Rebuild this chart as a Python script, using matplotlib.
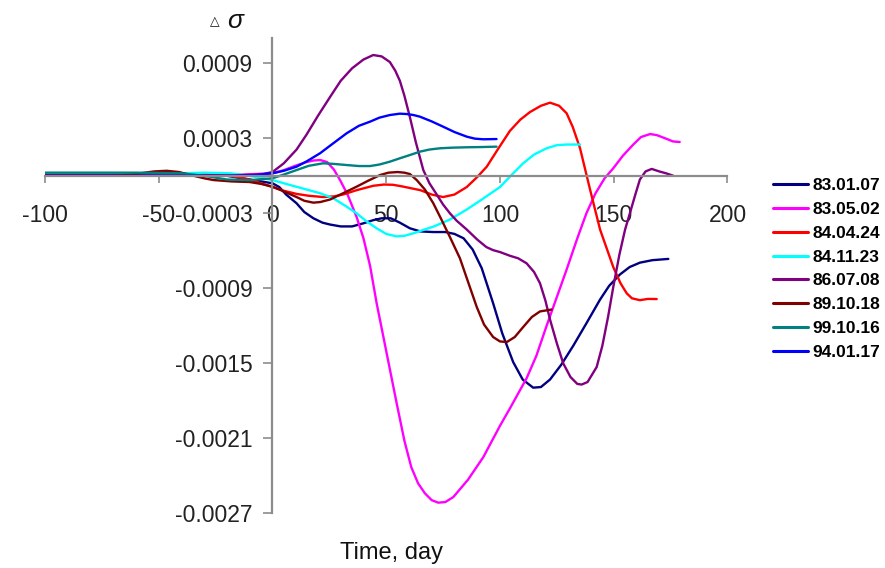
import numpy as np
import matplotlib
matplotlib.use("Agg")
import matplotlib.pyplot as plt

FS = 16.5
LW = 1.7
matplotlib.rcParams['font.family'] = ['Liberation Sans', 'DejaVu Sans']

# values, y in units of 1e-4
x_830107 = [-100, -60, -20, 0, 3, 6, 10.6, 14, 18, 22, 25.3, 30, 35, 40, 44.3, 48, 52, 56, 60.4, 65, 70.7, 76, 80, 84, 88,
            92, 97, 101, 105.8, 110, 114.6, 118, 122, 127, 132.2, 138, 144, 148, 152.7, 157, 161.5, 167, 174]
y_830107 = [0.05, 0.05, 0, -0.6, -0.9, -1.5, -2.2, -2.9, -3.4, -3.75, -3.9, -4.05, -4.05, -3.8, -3.55, -3.4, -3.4, -3.75, -4.2, -4.45, -4.5, -4.5, -4.65, -5.0, -5.9,
            -7.4, -10.2, -12.6, -14.9, -16.3, -16.95, -16.9, -16.3, -15.1, -13.6, -11.8, -9.9, -8.8, -7.9, -7.3, -6.95, -6.75, -6.65]

x_830502 = [-100, -50, -20, 0, 5, 10, 15, 18, 21, 24, 27, 29.7, 33, 37, 40, 42.9, 45.8, 50.2, 54.6, 58, 61, 64, 67, 70, 72.9, 76, 79.5, 86,
            92.7, 100, 104.4, 111.7, 116, 120.5, 125, 129.3, 134, 138, 142, 146, 149.8, 154, 158.6, 162, 166, 169, 173.3, 176, 179]
y_830502 = [0, 0, 0.05, 0.2, 0.45, 0.8, 1.1, 1.22, 1.26, 1.1, 0.5, -0.34, -1.5, -3.3, -5.0, -7.2, -10.2, -14.2, -18.2, -21.2, -23.3, -24.6, -25.4, -25.95, -26.15, -26.1, -25.7, -24.3,
            -22.5, -20.0, -18.6, -16.2, -14.4, -12.0, -9.7, -7.5, -5.0, -3.0, -1.4, -0.2, 0.6, 1.6, 2.5, 3.1, 3.34, 3.25, 2.95, 2.75, 2.7]

x_840424 = [-100, -60, -40, -30, -20, -10, 0, 5, 10.6, 16, 22.3, 27, 31, 37, 44.3, 49, 53, 57, 61, 65, 70, 75, 80, 85.4, 90, 94.2,
            99, 104.4, 109, 113.2, 118, 122, 126, 129.3, 132, 135.2, 139.6, 144, 149.8, 153, 155.7, 158, 161.5, 165, 168.9]
y_840424 = [0.1, 0.1, 0.15, 0.2, 0.05, -0.3, -0.9, -1.2, -1.45, -1.6, -1.7, -1.65, -1.5, -1.15, -0.8, -0.7, -0.72, -0.85, -1.0, -1.15, -1.5, -1.7, -1.5, -0.9, -0.1, 0.73,
            2.1, 3.6, 4.5, 5.1, 5.6, 5.85, 5.6, 5.0, 3.9, 2.2, -1.1, -4.3, -7.3, -8.6, -9.4, -9.8, -9.95, -9.85, -9.86]

x_841123 = [-100, -60, -30, -18.7, -10, 0, 7, 15, 21, 26.7, 32, 37, 41, 45.8, 50, 54.6, 58, 62, 66, 70.7, 78, 85.4, 92, 100,
            105, 110.2, 115, 120.5, 125, 129.3, 135.2]
y_841123 = [0.1, 0.1, 0.25, 0.2, 0.0, -0.34, -0.7, -1.1, -1.4, -1.8, -2.4, -3.0, -3.6, -4.2, -4.65, -4.85, -4.8, -4.6, -4.35, -4.07, -3.5, -2.7, -1.9, -0.9,
            0.05, 1.0, 1.7, 2.2, 2.45, 2.5, 2.5]

x_860708 = [-100, -60, -20, -5, 0, 5, 10.6, 15, 20, 25.3, 30, 35, 40, 44.3, 48, 51.6, 54, 56, 58, 60.4, 63, 66.3, 69, 72.2, 75, 78, 81,
            85.4, 90, 94, 97, 100, 104.4, 108, 111.7, 115, 117.6, 120, 122, 125, 127.8, 131, 134, 135.9, 138.5, 142.5, 145, 147.5,
            149.8, 152.5, 155, 157.1, 159.5, 161.5, 164, 166.7, 170, 173, 176.2]
y_860708 = [0.05, 0.05, 0.0, 0.1, 0.3, 1.0, 2.1, 3.3, 4.8, 6.3, 7.6, 8.6, 9.3, 9.66, 9.55, 9.1, 8.4, 7.6, 6.4, 4.7, 2.7, 0.46, -0.6, -1.5, -2.3, -3.0, -3.6,
            -4.3, -5.1, -5.7, -5.95, -6.1, -6.4, -6.6, -7.0, -7.7, -8.6, -10.0, -11.5, -13.4, -15.0, -16.1, -16.65, -16.7, -16.5, -15.3, -13.6, -11.3,
            -8.9, -6.3, -4.3, -3.0, -1.5, -0.3, 0.35, 0.55, 0.35, 0.2, 0.0]

x_891018 = [-100, -70, -62, -58, -52, -46.5, -41, -36, -30, -26, -18, -10, -5, 0, 5, 10.6, 14, 18, 21, 25.3, 31, 37, 42, 47.3, 51, 55,
            58, 60.4, 63.4, 67, 70.7, 74, 78, 82.4, 86, 89.8, 93, 97, 100, 103, 106.5, 110.2, 114, 117.6, 122.7]
y_891018 = [0, 0, 0.1, 0.2, 0.35, 0.4, 0.3, 0.06, -0.2, -0.34, -0.45, -0.5, -0.65, -0.87, -1.25, -1.7, -2.0, -2.15, -2.1, -1.9, -1.4, -0.87, -0.4, 0.06, 0.25, 0.3,
            0.25, 0.14, -0.34, -1.1, -2.2, -3.4, -4.9, -6.6, -8.5, -10.5, -11.9, -12.9, -13.25, -13.3, -12.9, -12.1, -11.3, -10.85, -10.7]

x_991016 = [-100, -60, -40, -30, -20, -10, 0, 5, 10.6, 16, 22.3, 27, 32.6, 38, 42.9, 47, 51.6, 56, 60.4, 64.8, 69, 73.6, 79, 85.4, 92, 98.5]
y_991016 = [0.25, 0.25, 0.2, 0.0, -0.3, -0.35, -0.2, 0.1, 0.46, 0.8, 1.0, 0.95, 0.86, 0.78, 0.78, 0.9, 1.13, 1.4, 1.66, 1.93, 2.1, 2.2, 2.25, 2.28, 2.3, 2.33]

x_940117 = [-100, -60, -18.7, -8, 0, 5, 10.6, 15, 20.9, 26, 32.6, 38, 42.9, 47, 51.6, 56, 59, 62, 64.8, 70, 75, 80, 85.4, 89, 92.7, 98.5]
y_940117 = [0, 0, 0, 0.05, 0.2, 0.4, 0.73, 1.15, 1.8, 2.5, 3.4, 4.0, 4.33, 4.65, 4.86, 4.97, 4.94, 4.86, 4.73, 4.35, 3.93, 3.5, 3.13, 2.97, 2.92, 2.94]

labels = ["83.01.07", "83.05.02", "84.04.24", "84.11.23", "86.07.08", "89.10.18", "99.10.16", "94.01.17"]
colors = ["#000080", "#ff00ff", "#ff0000", "#00ffff", "#800080", "#800000", "#008080", "#0000ff"]
xs = [x_830107, x_830502, x_840424, x_841123, x_860708, x_891018, x_991016, x_940117]
ys = [y_830107, y_830502, y_840424, y_841123, y_860708, y_891018, y_991016, y_940117]

xticks = [-100, -50, 0, 50, 100, 150, 200]
yticks = [-0.0027, -0.0021, -0.0015, -0.0009, -0.0003, 0.0003, 0.0009]

fig = plt.figure(figsize=(8.85, 5.68), dpi=100)
ax = fig.add_axes([0.0508, 0.0963, 0.7712, 0.8363])

for i in range(len(labels)):
    ax.plot(xs[i], np.array(ys[i]) * 1e-4, color=colors[i], linewidth=LW, label=labels[i],
            solid_joinstyle='round', solid_capstyle='round')

ax.set_xlim([-100, 200])
ax.set_ylim([-0.0027, 0.0011])

for s in ['top', 'right']:
    ax.spines[s].set_visible(False)
ax.spines['left'].set_position(('data', 0))
ax.spines['bottom'].set_position(('data', 0))
for s in ['left', 'bottom']:
    ax.spines[s].set_color('#8c8c8c')
    ax.spines[s].set_linewidth(1.6)

ax.set_xticks(xticks)
ax.set_xticklabels([str(v) for v in xticks])
ax.set_yticks(yticks)
ax.set_yticklabels(["%.4f" % v for v in yticks])
ax.tick_params(axis='x', direction='out', length=5, width=1.2, color='#8c8c8c', pad=15, labelsize=FS, labelcolor='#222222')
ax.tick_params(axis='y', direction='out', length=6.5, width=1.2, color='#8c8c8c', pad=8, labelsize=FS, labelcolor='#222222')

fig.text(392 / 885, 1 - 553 / 568, "Time, day", ha='center', va='center', fontsize=17, color='#111111')
fig.text(215 / 885, 1 - 22 / 568, "\u25b3", ha='center', va='center', fontsize=9, color='#111111', family='DejaVu Sans')
fig.text(235 / 885, 1 - 21 / 568, "\u03c3", ha='center', va='center', fontsize=19, style='italic', color='#111111')

leg = ax.legend(loc='upper left', bbox_to_anchor=(773 / 885, 1 - 178 / 568), bbox_transform=fig.transFigure,
                frameon=False, prop={'size': 12.5, 'weight': 'bold'}, handlelength=2.0, handletextpad=0.25,
                labelspacing=0.5, borderpad=0, borderaxespad=0)
for h in leg.get_lines():
    h.set_linewidth(2.2)

plt.savefig("out.png", dpi=100)
